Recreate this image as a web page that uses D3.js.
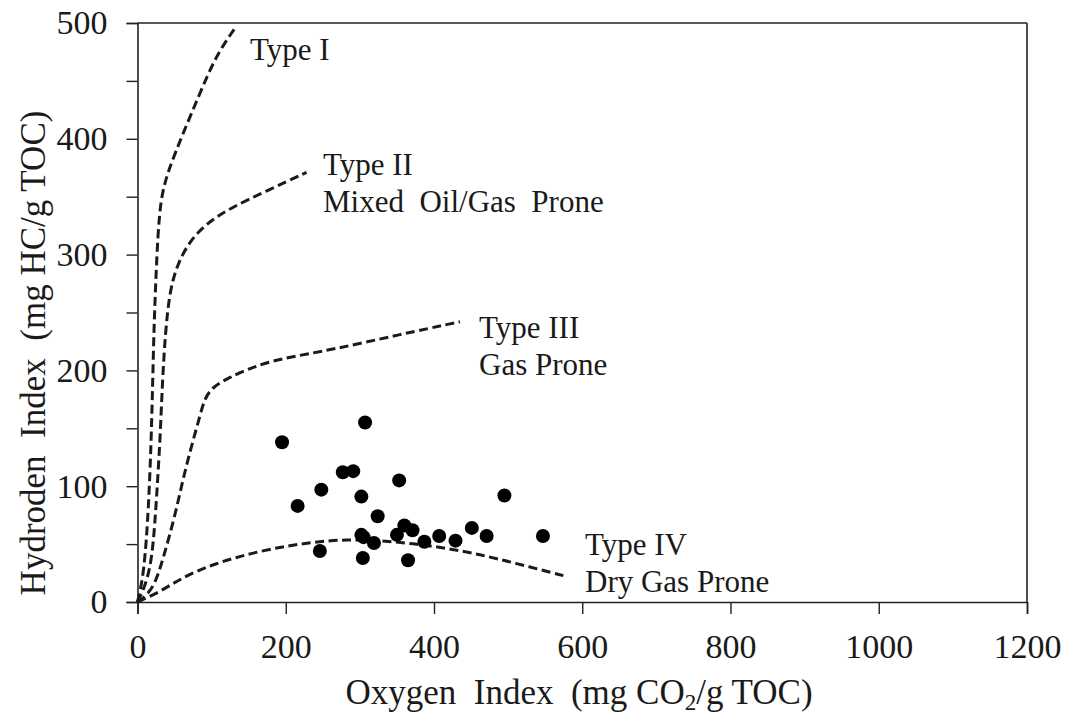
<!DOCTYPE html>
<html>
<head>
<meta charset="utf-8">
<script src="https://cdn.jsdelivr.net/npm/d3@7"></script>
<style>
  html, body { margin: 0; padding: 0; background: #fff; }
  svg { display: block; }
  text { font-family: "Liberation Serif", "Times New Roman", serif; fill: #1a1a1a; white-space: pre; }
</style>
</head>
<body>
<svg id="chart" width="1070" height="714"></svg>
<script>
// ---- Data ----
const xTicks = [0, 200, 400, 600, 800, 1000, 1200];
const yTicks = [0, 100, 200, 300, 400, 500];
const yMinorTicks = [50, 150, 250, 350, 450];

// Sample points: Oxygen Index (OI) and Hydrogen Index (HI)
const sampleOI = [195, 307, 277, 291, 353, 248, 302, 216, 495, 324, 360, 371, 350, 302, 305, 319, 387, 407, 429, 451, 471, 547, 246, 304, 365];
const sampleHI = [138, 155, 112, 113, 105, 97, 91, 83, 92, 74, 66, 62, 58, 58, 56, 51, 52, 57, 53, 64, 57, 57, 44, 38, 36];

// Kerogen type evolution curves [OI, HI]
const typeICurve = [[0,0],[9,25],[15,82],[18.5,140],[20.5,189],[22,232],[24.5,275],[27.5,318],[32,352],[43,375],[61,404],[84,439],[106,472],[132,496]];
const typeIICurve = [[0,0],[18.5,25],[25,82],[30.5,140],[33.5,189],[37.5,232],[43,266],[52,289],[70,312],[97,329],[128,341],[174,355],[228,371]];
const typeIIICurve = [[0,0],[21,10],[34,36],[50,73],[61,105],[72.5,134],[84,160],[90.5,176],[102,186],[124,194],[156,203],[191,210],[264,218],[354,231],[435,242]];
const typeIVCurve = [[0,0],[34,10],[57,20],[102,33],[169,45],[237,52],[282,54],[327,53],[372,50.5],[417,46.5],[462,41],[507,34],[579,22]];

const curveLabels = [
  {lines: ["Type I"], x: 250, y: 60},
  {lines: ["Type II", "Mixed  Oil/Gas  Prone"], x: 323, y: 175},
  {lines: ["Type III", "Gas Prone"], x: 479, y: 338},
  {lines: ["Type IV", "Dry Gas Prone"], x: 585, y: 555}
];

// ---- Chart ----
const svg = d3.select("#chart");
const mLeft = 137.5, mRight = 1027, mTop = 23, mBottom = 602;

const x = d3.scaleLinear().domain([0, 1200]).range([mLeft, mRight]);
const y = d3.scaleLinear().domain([0, 500]).range([mBottom, mTop]);

const axisColor = "#222";

// Box top & right
svg.append("line").attr("x1", mLeft).attr("x2", mRight).attr("y1", mTop).attr("y2", mTop)
  .attr("stroke", axisColor).attr("stroke-width", 1.6);
svg.append("line").attr("x1", mRight).attr("x2", mRight).attr("y1", mTop).attr("y2", mBottom)
  .attr("stroke", axisColor).attr("stroke-width", 1.6);

// X axis
const xAxis = svg.append("g").attr("transform", `translate(0,${mBottom})`)
  .call(d3.axisBottom(x).tickValues(xTicks).tickSize(12).tickPadding(20).tickFormat(d3.format("d")));
xAxis.attr("font-family", null);
xAxis.select(".domain").attr("stroke", axisColor).attr("stroke-width", 1.6);
xAxis.selectAll(".tick line").attr("stroke", axisColor).attr("stroke-width", 1.4);
xAxis.selectAll(".tick text").attr("font-size", 34).attr("fill", "#1a1a1a");

// Y axis (major)
const yAxis = svg.append("g").attr("transform", `translate(${mLeft},0)`)
  .call(d3.axisLeft(y).tickValues(yTicks).tickSize(11).tickPadding(19).tickFormat(d3.format("d")));
yAxis.attr("font-family", null);
yAxis.select(".domain").attr("stroke", axisColor).attr("stroke-width", 1.6);
yAxis.selectAll(".tick line").attr("stroke", axisColor).attr("stroke-width", 1.4);
yAxis.selectAll(".tick text").attr("font-size", 34).attr("fill", "#1a1a1a");

// Y axis (minor ticks)
const yMinor = svg.append("g").attr("transform", `translate(${mLeft},0)`)
  .call(d3.axisLeft(y).tickValues(yMinorTicks).tickSize(11).tickFormat(""));
yMinor.select(".domain").remove();
yMinor.selectAll(".tick line").attr("stroke", axisColor).attr("stroke-width", 1.4);

// Curves
const line = d3.line().x(d => x(d[0])).y(d => y(d[1])).curve(d3.curveBasis);
[typeICurve, typeIICurve, typeIIICurve, typeIVCurve].forEach(c => {
  svg.append("path").datum(c).attr("d", line)
    .attr("fill", "none").attr("stroke", "#1a1a1a").attr("stroke-width", 3)
    .attr("stroke-dasharray", "9,4.5");
});

// Points
svg.append("g").selectAll("circle").data(sampleOI.map((o, i) => [o, sampleHI[i]]))
  .join("circle").attr("cx", d => x(d[0])).attr("cy", d => y(d[1])).attr("r", 7)
  .attr("fill", "#000");

// Curve labels
curveLabels.forEach(l => {
  const t = svg.append("text").attr("x", l.x).attr("y", l.y).attr("font-size", 31);
  l.lines.forEach((s, i) => {
    t.append("tspan").attr("x", l.x).attr("dy", i === 0 ? 0 : 37).text(s);
  });
});

// X axis title
const xt = svg.append("text").attr("x", 579).attr("y", 704).attr("text-anchor", "middle").attr("font-size", 35);
xt.append("tspan").text("Oxygen  Index  (mg CO");
xt.append("tspan").attr("font-size", 23).attr("dy", 6).text("2");
xt.append("tspan").attr("dy", -6).text("/g TOC)");

// Y axis title
svg.append("text").attr("transform", "translate(45,353) rotate(-90)")
  .attr("text-anchor", "middle").attr("font-size", 35)
  .text("Hydroden  Index  (mg HC/g TOC)");
</script>
</body>
</html>
